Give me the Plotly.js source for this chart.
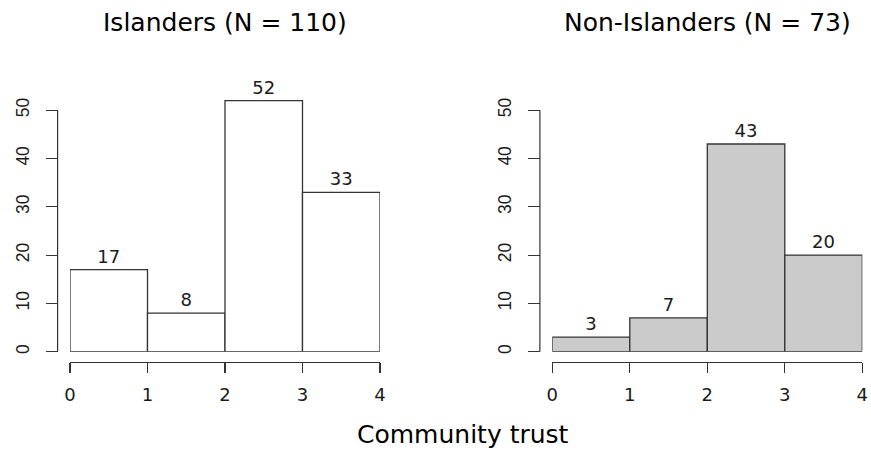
<!DOCTYPE html>
<html>
<head>
<meta charset="utf-8">
<script src="https://cdn.plot.ly/plotly-3.0.1.min.js"></script>
<style>html,body{margin:0;padding:0;background:#fff;}#chart{width:871px;height:458px;}</style>
</head>
<body>
<div id="chart"></div>
<script>
// ---- data ----
const binCenters = [0.5, 1.5, 2.5, 3.5];
const islanderCounts = [17, 8, 52, 33];
const nonIslanderCounts = [3, 7, 43, 20];
const panelTitles = ["Islanders (N = 110)", "Non-Islanders (N = 73)"];
const xTickVals = [0, 1, 2, 3, 4];
const yTickVals = [0, 10, 20, 30, 40, 50];
const xAxisTitle = "Community trust";

// ---- geometry (pixels) ----
const W = 871, H = 458;
const FONT = "DejaVu Sans, Liberation Sans, Arial, sans-serif";
const YFONT = "Liberation Sans, Arial, sans-serif";
const INK = "#1a1a1a";
const panels = [
  {x0: 70, x4: 380, fill: "#ffffff"},
  {x0: 552.3, x4: 862.3, fill: "#cbcbcc"}
];
const y0px = 351.7, y50px = 110.2;
const ppy = (y0px - y50px) / 50;
const yTopVal = 54.08;
const topPx = y0px - yTopVal * ppy;
const bottomPx = y0px + 2.08 * ppy;   // R plot-region bottom (x axis line)

const px = v => v / W;
const py = v => 1 - v / H;

const layout = {
  width: W, height: H,
  margin: {l: 0, r: 0, t: 0, b: 0},
  paper_bgcolor: "#fff", plot_bgcolor: "rgba(0,0,0,0)",
  showlegend: false,
  font: {family: FONT, color: INK},
  annotations: [], shapes: [],
  bargap: 0
};
const data = [];
const countsList = [islanderCounts, nonIslanderCounts];

panels.forEach((p, i) => {
  const n = i + 1;
  const ppx = (p.x4 - p.x0) / 4;
  const yAxisPx = p.x0 - 0.16 * ppx;
  const xa = n === 1 ? "xaxis" : "xaxis" + n;
  const ya = n === 1 ? "yaxis" : "yaxis" + n;
  const yref = n === 1 ? "y" : "y" + n;
  layout[xa] = {
    domain: [px(p.x0), px(p.x4)], range: [0, 4],
    anchor: "free", position: py(bottomPx),
    tickvals: xTickVals, ticks: "outside", ticklen: 10, tickwidth: 1.2, tickcolor: "#333",
    showline: true, linecolor: "#333", linewidth: 1.2,
    showgrid: false, zeroline: false, fixedrange: true,
    tickfont: {size: 18, color: INK, family: FONT},
    ticklabelstandoff: 6
  };
  layout[ya] = {
    domain: [py(y0px), py(topPx)], range: [0, yTopVal],
    anchor: "free", position: px(yAxisPx),
    tickvals: yTickVals, ticks: "outside", ticklen: 12, tickwidth: 1.2, tickcolor: "#333",
    showline: false,
    showgrid: false, zeroline: false, fixedrange: true,
    tickangle: -90,
    tickfont: {size: 17.5, color: INK, family: YFONT},
    ticklabelstandoff: 10
  };
  layout.shapes.push({
    type: "line", xref: "paper", yref: yref,
    x0: px(yAxisPx), x1: px(yAxisPx), y0: yTickVals[0], y1: yTickVals[yTickVals.length - 1],
    line: {color: "#333", width: 1.2}
  });
  data.push({
    type: "bar",
    x: binCenters, y: countsList[i], width: 1,
    xaxis: n === 1 ? "x" : "x" + n, yaxis: yref,
    marker: {color: p.fill, line: {color: "#333", width: 1.3}},
    text: countsList[i].map(String), textposition: "outside",
    textfont: {size: 18, color: INK, family: FONT},
    cliponaxis: false, hoverinfo: "skip"
  });
  const leftPx = yAxisPx, rightPx = p.x0 + 4.16 * ppx;
  layout.annotations.push({
    text: panelTitles[i], xref: "paper", yref: "paper",
    x: px((leftPx + rightPx) / 2), y: py(22), xanchor: "center", yanchor: "middle",
    showarrow: false, font: {size: 25, color: "#000", family: FONT}
  });
});

layout.annotations.push({
  text: xAxisTitle, xref: "paper", yref: "paper",
  x: px(463), y: py(434), xanchor: "center", yanchor: "middle",
  showarrow: false, font: {size: 25, color: "#000", family: FONT}
});

Plotly.newPlot("chart", data, layout, {displayModeBar: false, staticPlot: true});
</script>
</body>
</html>
